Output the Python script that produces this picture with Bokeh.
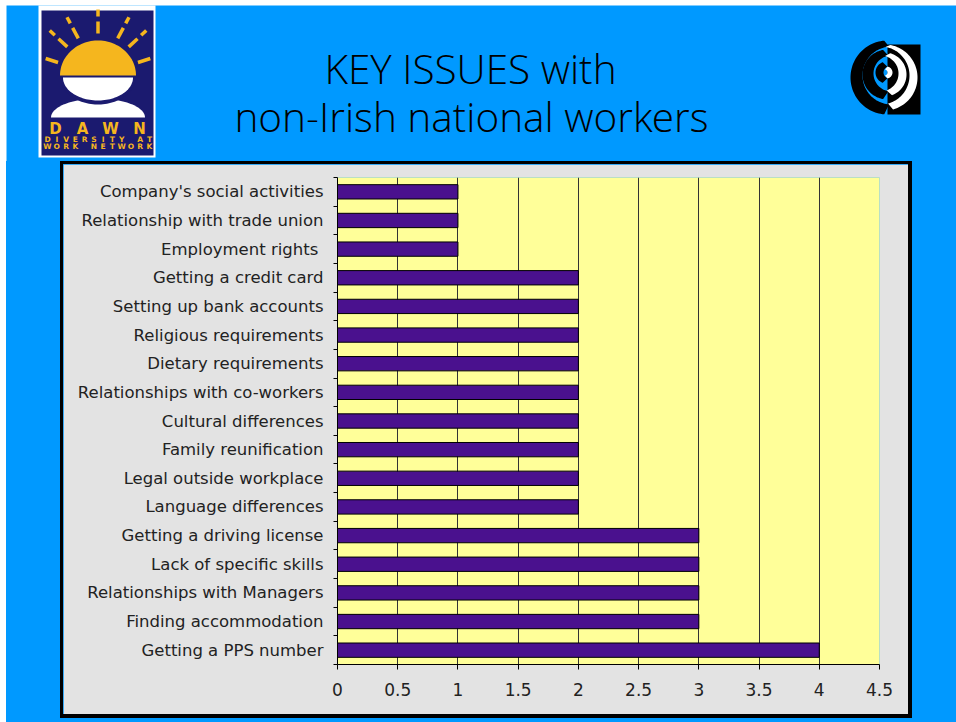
import numpy as np
from bokeh.plotting import figure
from bokeh.models import Range1d, FixedTicker, Spacer
from bokeh.layouts import column, row
from bokeh.core.properties import value
from bokeh.embed import file_html
from bokeh.resources import INLINE

# ---------------- data ----------------
categories = [
    "Getting a PPS number", "Finding accommodation", "Relationships with Managers",
    "Lack of specific skills", "Getting a driving license", "Language differences",
    "Legal outside workplace", "Family reunification", "Cultural differences",
    "Relationships with co-workers", "Dietary requirements", "Religious requirements",
    "Setting up bank accounts", "Getting a credit card", "Employment rights ",
    "Relationship with trade union", "Company's social activities",
]
counts = [4, 3, 3, 3, 3, 2, 2, 2, 2, 2, 2, 2, 2, 2, 1, 1, 1]
x_ticks = [0, 0.5, 1, 1.5, 2, 2.5, 3, 3.5, 4, 4.5]
x_tick_labels = ["0", "0.5", "1", "1.5", "2", "2.5", "3", "3.5", "4", "4.5"]
title_lines = ["KEY ISSUES with", "non-Irish national workers"]
logo_word = "DAWN"
logo_sub1 = "DIVERSITY AT"
logo_sub2 = "WORK NETWORK"

BLUE = "#0099ff"
GREY = "#e3e3e3"
YELLOW = "#ffff99"
NAVY = "#1b1a6f"
SUN = "#f5b61e"
BAR = "#4a118e"

# ---------------- header (title + logos) ----------------
h = figure(width=956, height=161, x_range=Range1d(0, 956), y_range=Range1d(161, 0),
           output_backend="svg", toolbar_location=None, min_border=0,
           x_axis_type=None, y_axis_type=None,
           background_fill_color="white", border_fill_color="white", outline_line_color=None)
h.grid.visible = False
h.quad(left=[6], right=[956], top=[5], bottom=[161], fill_color=BLUE, line_color=None)

# DAWN logo
h.quad(left=[38], right=[155], top=[5], bottom=[157], fill_color="white", line_color=None)
h.quad(left=[41], right=[153], top=[10], bottom=[155], fill_color=NAVY, line_color=None)

cx, cy = 97.5, 75.0
ray_angles = [0, 28, -28, 47, -47, 72, -72]
xs0, ys0, xs1, ys1 = [], [], [], []
for a in ray_angles:
    t = np.radians(a)
    segs = [(42, 54), (59, 66)] if abs(a) < 60 else [(42, 55)]
    for r0, r1 in segs:
        xs0.append(cx + r0 * np.sin(t)); ys0.append(cy - r0 * np.cos(t))
        xs1.append(cx + r1 * np.sin(t)); ys1.append(cy - r1 * np.cos(t))
h.segment(x0=xs0, y0=ys0, x1=xs1, y1=ys1, line_color=SUN, line_width=3.5)


def half_ellipse(xc, yc, a, b, upper=True, n=60):
    th = np.linspace(0, np.pi, n)
    sgn = -1 if upper else 1
    return list(xc + a * np.cos(th)), list(yc + sgn * b * np.sin(th))


bx, by = half_ellipse(97.5, 117, 47, 19, upper=True)
h.patch(bx, by, fill_color="white", line_color=None)
ox, oy = half_ellipse(97.5, 76, 38, 28, upper=False)
h.patch(ox, oy, fill_color=NAVY, line_color=None)
wx, wy = half_ellipse(97.5, 77, 35, 23, upper=False)
h.patch(wx, wy, fill_color="white", line_color=None)
yx, yy = half_ellipse(97.5, 75, 38, 35, upper=True)
h.patch(yx, yy, fill_color=SUN, line_color=None)

h.text(x=[55, 82, 110, 139], y=[128, 128, 128, 128], text=list(logo_word),
       text_font=value("DejaVu Sans"), text_font_style="bold", text_font_size="15px",
       text_color=SUN, text_align="center", text_baseline="middle")
n1 = len(logo_sub1)
h.text(x=list(np.linspace(47, 149, n1)), y=[138.5] * n1, text=list(logo_sub1),
       text_font=value("DejaVu Sans"), text_font_style="bold", text_font_size="7.5px",
       text_color=SUN, text_align="center", text_baseline="middle")
n2 = len(logo_sub2)
h.text(x=list(np.linspace(47, 149, n2)), y=[146] * n2, text=list(logo_sub2),
       text_font=value("DejaVu Sans"), text_font_style="bold", text_font_size="7.5px",
       text_color=SUN, text_align="center", text_baseline="middle")

# right logo
h.quad(left=[887], right=[920], top=[44], bottom=[114], fill_color="black", line_color=None)


def crescent(c1, R, c2, r, a0, a1, n=60):
    th = np.linspace(np.radians(a0), np.radians(a1), n)
    ox = c1[0] + R * np.cos(th); oy = c1[1] + R * np.sin(th)
    ix = c2[0] + r * np.cos(th[::-1]); iy = c2[1] + r * np.sin(th[::-1])
    return list(np.concatenate([ox, ix])), list(np.concatenate([oy, iy]))


left_cres = [crescent((887, 77), 37, (891, 75), 29, 95, 265),
             crescent((887, 74), 25, (891, 73), 18, 100, 260),
             crescent((886, 72), 11, (889, 72), 6, 110, 250)]
h.patches([c[0] for c in left_cres], [c[1] for c in left_cres], fill_color="black", line_color=None)
right_cres = [crescent((884, 77), 33, (880, 75), 29, -80, 75),
              crescent((884, 74), 22, (880, 73), 18, -75, 70),
              crescent((886, 72), 6, (884, 72), 3, -80, 80)]
h.patches([c[0] for c in right_cres], [c[1] for c in right_cres], fill_color="white", line_color=None)

# title
h.text(x=[470, 471], y=[68, 116], text=title_lines,
       text_font=value("Open Sans Light, Lato Light, Open Sans"),
       text_font_size="40.5px", text_color="black", text_align="center",
       text_baseline="middle")

# ---------------- bar chart ----------------
n = len(categories)
ypos = [i + 0.5 for i in range(n)]

p = figure(width=852, height=557, x_range=Range1d(0, 4.5), y_range=Range1d(0, n),
           output_backend="svg", toolbar_location=None,
           min_border_left=274, min_border_right=36, min_border_top=13, min_border_bottom=57,
           background_fill_color=YELLOW, border_fill_color=GREY, outline_line_color=None)
p.styles = {"border": "3px solid black", "border-right-width": "4px",
            "border-bottom-width": "4px"}

p.hbar(y=ypos, left=0, right=counts, height=0.5, fill_color=BAR,
       line_color="black", line_width=1)

p.xaxis.ticker = FixedTicker(ticks=x_ticks)
p.xaxis.major_label_overrides = {float(t): l for t, l in zip(x_ticks, x_tick_labels)}
p.xaxis.major_tick_out = 5
p.xaxis.major_tick_in = 0
p.xaxis.minor_tick_out = 0
p.xaxis.major_label_standoff = 13
p.xaxis.major_label_text_font_size = "17px"

p.yaxis.ticker = FixedTicker(ticks=ypos, minor_ticks=list(range(n + 1)))
p.yaxis.major_label_overrides = {float(y): c for y, c in zip(ypos, categories)}
p.yaxis.major_tick_out = 0
p.yaxis.major_tick_in = 0
p.yaxis.minor_tick_out = 4
p.yaxis.minor_tick_in = 0
p.yaxis.minor_tick_line_color = "black"
p.yaxis.major_label_standoff = 10
p.yaxis.major_label_text_font_size = "16.5px"

for ax in (p.xaxis, p.yaxis):
    ax.axis_line_color = "black"
    ax.major_tick_line_color = "black"
    ax.major_label_text_font = "DejaVu Sans"
    ax.major_label_text_color = "#222222"

p.xgrid.ticker = FixedTicker(ticks=x_ticks)
p.xgrid.grid_line_color = "#333333"
p.xgrid.grid_line_width = 1
p.ygrid.visible = False

chart_row = row(
    Spacer(width=6, height=557, styles={"background-color": "white"}),
    Spacer(width=54, height=557),
    p,
    Spacer(width=44, height=557),
    styles={"background-color": BLUE},
)
bottom_row = row(
    Spacer(width=6, height=4, styles={"background-color": "white"}),
    Spacer(width=950, height=4),
    styles={"background-color": BLUE},
)
layout = column(h, chart_row, bottom_row)

open("out.html", "w").write(file_html(layout, INLINE))
